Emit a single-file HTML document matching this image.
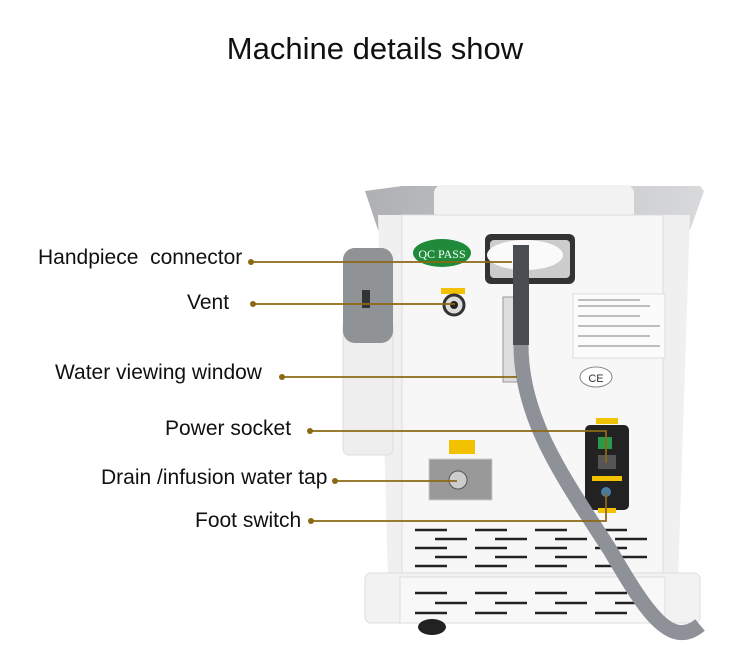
<!DOCTYPE html>
<html><head><style>
body{margin:0;width:750px;height:670px;background:#fff;overflow:hidden;position:relative;font-family:"Liberation Sans",sans-serif}
.t{position:absolute;font-size:21px;color:#111;white-space:nowrap}
</style></head><body>
<div class="t" style="left:0;width:750px;text-align:center;top:31px;font-size:31px">Machine details show</div>
<svg width="750" height="670" style="position:absolute;left:0;top:0">
<defs>
<linearGradient id="g1" x1="0" x2="1"><stop offset="0" stop-color="#aeb0b3"/><stop offset="1" stop-color="#d8d9db"/></linearGradient>
</defs>
<path d="M365 191 L402 186 L700 186 L704 191 L690 230 L663 240 L663 215 L402 215 L402 240 L378 230 Z" fill="url(#g1)"/>
<rect x="434" y="185" width="200" height="35" rx="8" fill="#f2f2f2"/>
<path d="M378 215 L690 215 L678 580 L388 580 Z" fill="#f0f0f0"/>
<rect x="402" y="215" width="261" height="358" fill="#f7f7f7" stroke="#ddd"/>
<rect x="365" y="573" width="335" height="50" rx="6" fill="#f2f2f2" stroke="#ddd"/>
<rect x="400" y="577" width="265" height="46" fill="#f8f8f8" stroke="#ddd"/>
<ellipse cx="432" cy="627" rx="14" ry="8" fill="#222"/>
<rect x="343" y="248" width="50" height="90" rx="12" fill="#8a8d90"/>
<rect x="343" y="320" width="50" height="135" rx="6" fill="#eeeeee" stroke="#ddd"/>
<rect x="343" y="248" width="50" height="95" rx="12" fill="#909396"/>
<rect x="362" y="290" width="8" height="18" fill="#333"/>
<ellipse cx="442" cy="253" rx="29" ry="14" fill="#1f8a3a"/>
<text x="442" y="258" font-family="Liberation Serif" font-size="12" fill="#fff" text-anchor="middle">QC PASS</text>
<rect x="485" y="234" width="90" height="50" rx="6" fill="#333"/>
<rect x="490" y="240" width="80" height="38" rx="4" fill="#ccc"/>
<ellipse cx="525" cy="255" rx="38" ry="15" fill="#fafafa"/>
<rect x="441" y="288" width="24" height="6" fill="#f2c200"/>
<circle cx="454" cy="305" r="10" fill="#ddd" stroke="#333" stroke-width="3"/>
<circle cx="454" cy="305" r="4" fill="#222"/>
<rect x="503" y="297" width="16" height="85" fill="#ddd" stroke="#999"/>
<rect x="573" y="294" width="92" height="64" fill="#fbfbfb" stroke="#ddd"/>
<g stroke="#aaa" stroke-width="1.5"><line x1="578" y1="300" x2="640" y2="300"/><line x1="578" y1="306" x2="650" y2="306"/><line x1="578" y1="316" x2="640" y2="316"/><line x1="578" y1="326" x2="660" y2="326"/><line x1="578" y1="336" x2="650" y2="336"/><line x1="578" y1="346" x2="660" y2="346"/></g>
<ellipse cx="596" cy="377" rx="16" ry="10" fill="#fff" stroke="#888"/>
<text x="596" y="382" font-size="11" text-anchor="middle" fill="#333">CE</text>
<rect x="585" y="425" width="44" height="85" rx="5" fill="#222"/>
<rect x="596" y="418" width="22" height="6" fill="#f2c200"/>
<rect x="598" y="437" width="14" height="12" fill="#2a9a4a"/>
<rect x="598" y="455" width="18" height="14" fill="#555"/>
<rect x="592" y="476" width="30" height="5" fill="#f2c200"/>
<circle cx="606" cy="492" r="5" fill="#4a7aa0"/>
<rect x="598" y="508" width="18" height="5" fill="#f2c200"/>
<rect x="449" y="440" width="26" height="14" fill="#f2c200"/>
<rect x="429" y="459" width="63" height="41" fill="#999" stroke="#ccc"/>
<circle cx="458" cy="480" r="9" fill="#ccc" stroke="#555"/>
<g stroke="#222" stroke-width="2.5" stroke-dasharray="32 28">
<line x1="415" y1="530" x2="650" y2="530"/><line x1="435" y1="539" x2="650" y2="539"/><line x1="415" y1="548" x2="650" y2="548"/><line x1="435" y1="557" x2="650" y2="557"/><line x1="415" y1="566" x2="650" y2="566"/>
<line x1="415" y1="593" x2="650" y2="593"/><line x1="435" y1="603" x2="650" y2="603"/><line x1="415" y1="613" x2="650" y2="613"/>
</g>
<path d="M521 245 L521 345 C521 420 565 480 610 550 C645 610 670 650 700 625" fill="none" stroke="#8e9298" stroke-width="15"/>
<path d="M521 245 L521 345" fill="none" stroke="#4a4d52" stroke-width="16"/>
<g stroke="#8b6914" stroke-width="1.8" fill="none">
<line x1="251" y1="262" x2="512" y2="262"/>
<line x1="253" y1="304" x2="455" y2="304"/>
<line x1="282" y1="377" x2="517" y2="377"/>
<polyline points="310,431 606,431 606,463"/>
<line x1="335" y1="481" x2="457" y2="481"/>
<polyline points="311,521 606,521 606,493"/>
</g>
<g fill="#8b6914">
<circle cx="251" cy="262" r="3"/><circle cx="253" cy="304" r="3"/><circle cx="282" cy="377" r="3"/><circle cx="310" cy="431" r="3"/><circle cx="335" cy="481" r="3"/><circle cx="311" cy="521" r="3"/>
</g>
</svg>
<div class="t" style="left:38px;top:246px">Handpiece&nbsp; connector</div>
<div class="t" style="left:187px;top:291px">Vent</div>
<div class="t" style="left:55px;top:361px">Water viewing window</div>
<div class="t" style="left:165px;top:417px">Power socket</div>
<div class="t" style="left:101px;top:466px">Drain /infusion water tap</div>
<div class="t" style="left:195px;top:509px">Foot switch</div>
</body></html>
